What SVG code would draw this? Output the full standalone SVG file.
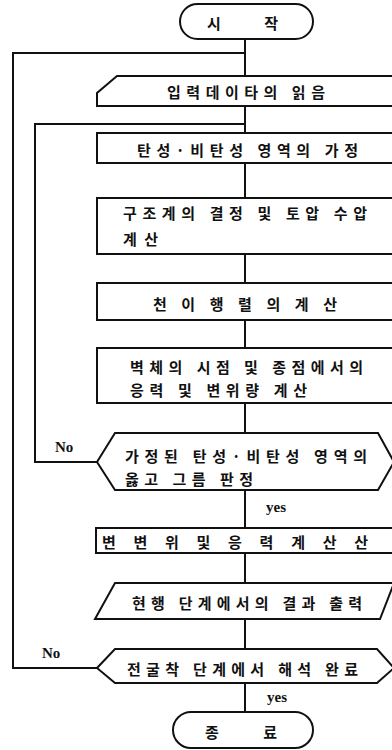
<svg xmlns="http://www.w3.org/2000/svg" width="392" height="750" viewBox="0 0 392 750">
<style>
.s{fill:none;stroke:#111;stroke-width:2}
.n{fill:#fff;stroke:#111;stroke-width:2}
.t{font-family:"Noto Sans CJK KR","Noto Sans",sans-serif;font-weight:bold;font-size:15px;fill:#111;dominant-baseline:central}
.l{font-family:"Liberation Serif",serif;font-weight:bold;font-size:15px;fill:#111}
</style>
<rect width="392" height="750" fill="#fff"/>
<g id="connectors">
<path class="s" d="M245 39V76M245 106V133M245 163V198M245 254V283M245 320V348M245 403V433M245 490V528M245 553V583M245 619V649M245 683V712"/>
<path class="s" d="M245 53H13V668H97" stroke-width="3"/>
<path class="s" d="M245 124H35V462H97"/>
</g>
<g id="start"><rect class="n" x="180" y="4" width="133" height="35" rx="17.5"/><text class="t" x="207" y="22" textLength="71" lengthAdjust="spacing">시 작</text></g>
<g id="input"><path class="n" d="M117 76H394V106H97V93Z"/><text class="t" x="167" y="91" textLength="158" lengthAdjust="spacing">입력데이타의 읽음</text></g>
<g id="assume"><rect class="n" x="97" y="133" width="297" height="30"/><text class="t" x="137" y="149" textLength="221" lengthAdjust="spacing">탄성·비탄성 영역의 가정</text></g>
<g id="struct"><rect class="n" x="97" y="198" width="297" height="56"/><text class="t" x="123" y="212" textLength="244" lengthAdjust="spacing">구조계의 결정 및 토압 수압</text><text class="t" x="123" y="238" textLength="35" lengthAdjust="spacing">계산</text></g>
<g id="matrix"><rect class="n" x="97" y="283" width="297" height="37"/><text class="t" x="153" y="303" textLength="184" lengthAdjust="spacing">천 이 행 렬 의 계 산</text></g>
<g id="wall"><rect class="n" x="97" y="348" width="297" height="55"/><text class="t" x="130" y="366" textLength="233" lengthAdjust="spacing">벽체의 시점 및 종점에서의</text><text class="t" x="130" y="389" textLength="177" lengthAdjust="spacing">응력 및 변위량 계산</text></g>
<g id="check"><path class="n" d="M115 433H378L394 462L378 490H115L97 462Z"/><text class="t" x="125" y="455" textLength="242" lengthAdjust="spacing">가정된 탄성·비탄성 영역의</text><text class="t" x="125" y="478" textLength="128" lengthAdjust="spacing">옳고 그름 판정</text></g>
<g id="disp"><rect class="n" x="96" y="528" width="298" height="25"/><text class="t" x="102" y="541" textLength="266" lengthAdjust="spacing">변 변 위 및 응 력 계 산 산</text></g>
<g id="output"><path class="n" d="M115 583H394L380 619H95Z"/><text class="t" x="132" y="602" textLength="230" lengthAdjust="spacing">현행 단계에서의 결과 출력</text></g>
<g id="done"><path class="n" d="M115 649H377L394 668L377 683H115L97 668Z"/><text class="t" x="127" y="668" textLength="231" lengthAdjust="spacing">전굴착 단계에서 해석 완료</text></g>
<g id="end"><rect class="n" x="173" y="712" width="140" height="36" rx="18"/><text class="t" x="205" y="731" textLength="72" lengthAdjust="spacing">종 료</text></g>
<g id="labels">
<text class="l" x="55" y="452">No</text>
<text class="l" x="42" y="658">No</text>
<text class="l" x="266" y="512">yes</text>
<text class="l" x="267" y="702">yes</text>
</g>
</svg>
